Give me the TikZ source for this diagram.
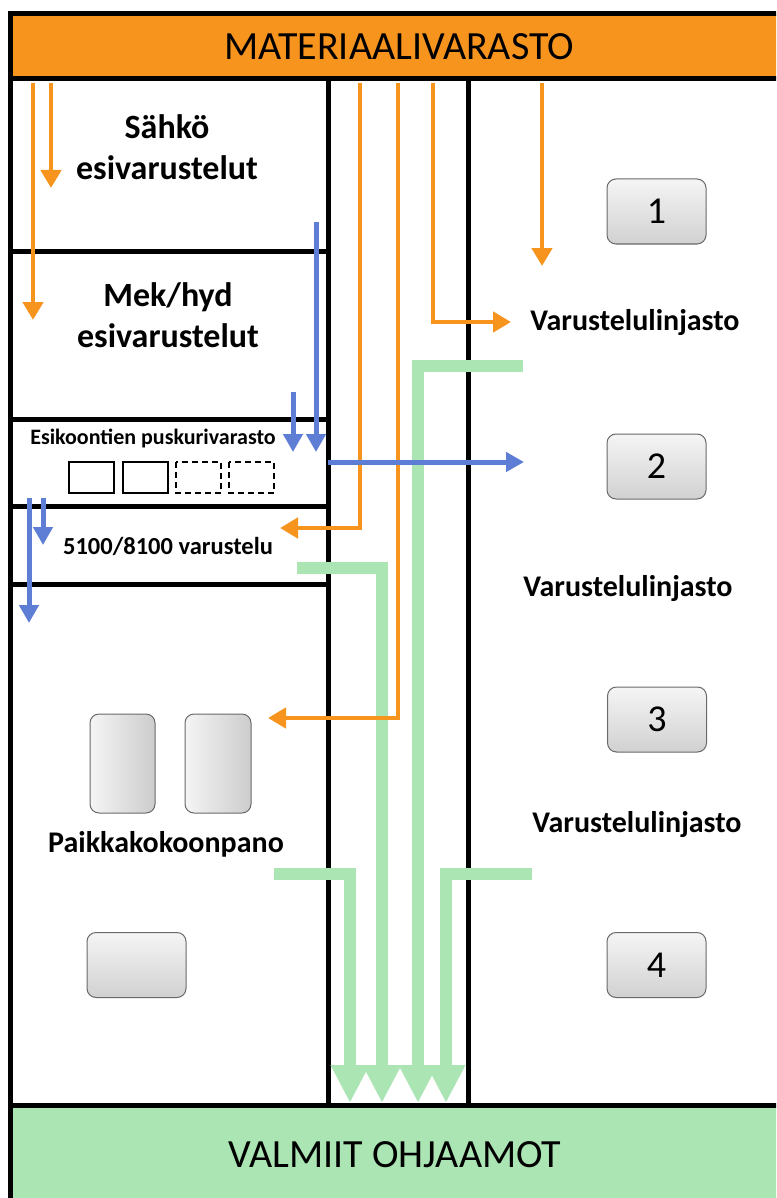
\documentclass[tikz,border=0pt]{standalone}
\usepackage{fontspec}
\setmainfont{Carlito}
\usetikzlibrary{arrows.meta}
\definecolor{oranssi}{RGB}{247,148,30}
\definecolor{sininen}{RGB}{94,126,214}
\definecolor{vihrea}{RGB}{171,229,180}
\definecolor{reuna}{RGB}{105,105,105}

\begin{document}
\begin{tikzpicture}[x=1pt,y=-1pt,line join=miter]
    \tikzset{seina/.style={line width=5pt},
        otsikko/.style={font=\bfseries\fontsize{34}{41}\selectfont,align=center},
        pieni/.style={font=\bfseries\fontsize{22}{26}\selectfont},
        linja/.style={font=\bfseries\fontsize{30}{36}\selectfont},
        kone/.style={draw=reuna,line width=1pt,rounded corners=9pt,inner sep=0pt,
            top color=black!4,bottom color=black!18,font=\fontsize{38}{40}\selectfont},
        pkone/.style={kone,left color=black!4,right color=black!20},
        katko/.style={dash pattern=on 6pt off 4pt},
        onuoli/.style={oranssi,line width=4.5pt,-{Triangle[width=20pt,length=18pt]}},
        snuoli/.style={sininen,line width=5pt,-{Triangle[width=19pt,length=18pt]}},
        vnuoli/.style={vihrea,line width=12pt,-{Triangle[width=36pt,length=38pt]}}}
    \useasboundingbox (0,0) rectangle (776,1198);
    \clip (0,0) rectangle (776,1198);
    % varastot ylhaalla ja alhaalla
    \draw[seina,fill=oranssi] (10.5,14) rectangle (800,79);
    \node[font=\fontsize{40}{44}\selectfont] (varasto) at (399,47) {MATERIAALIVARASTO};
    \fill[vihrea] (10.5,1105) rectangle (800,1210);
    \draw[seina] (10.5,79) -- (10.5,1210);
    \draw[seina] (10.5,1105) -- (800,1105);
    \node[font=\fontsize{40}{44}\selectfont] (valmiit) at (395,1155) {VALMIIT OHJAAMOT};
    % seinat
    \draw[seina] (328,79) -- (328,1105);
    \draw[seina] (468.5,79) -- (468.5,1105);
    \foreach \y in {251.5,419,506,584}
    \draw[seina] (10.5,\y) -- (328,\y);
    % puskurin paikat
    \foreach \x/\tyyli in {69/solid,123/solid,176/katko,229/katko}
    \draw[line width=1.6pt,\tyyli] (\x,462) rectangle ++(45,31);
    % tekstit
    \node[otsikko] (sahko) at (167,147) {Sähkö\\esivarustelut};
    \node[otsikko] (mekhyd) at (168,315) {Mek/hyd\\esivarustelut};
    \node[pieni] (puskuri) at (153,438) {Esikoontien puskurivarasto};
    \node[linja,font=\bfseries\fontsize{24.5}{28}\selectfont] (varustelu) at (168,546) {5100/8100 varustelu};
    \node[linja] (paikka) at (166,844) {Paikkakokoonpano};
    \node[linja] (linja1) at (635,323) {Varustelulinjasto};
    \node[linja] (linja2) at (628,589) {Varustelulinjasto};
    \node[linja] (linja3) at (637,824) {Varustelulinjasto};
    % koneet
    \node[kone,minimum width=99pt,minimum height=65pt] (k1) at (656.5,211.5) {1};
    \node[kone,minimum width=99pt,minimum height=65pt] (k2) at (656.5,466.5) {2};
    \node[kone,minimum width=99pt,minimum height=65pt] (k3) at (657,719.5) {3};
    \node[kone,minimum width=99pt,minimum height=65pt] (k4) at (656.5,965) {4};
    \node[pkone,minimum width=65pt,minimum height=99pt] (p1) at (122.5,763.5) {};
    \node[pkone,minimum width=66pt,minimum height=99pt] (p2) at (218,763.5) {};
    \node[kone,minimum width=99pt,minimum height=65pt] (p3) at (136.5,965) {};
    % valmiit ohjaamot
    \draw[vnuoli] (523,366) -| (418,1103);
    \draw[vnuoli] (297,568) -| (382,1103);
    \draw[vnuoli] (274,874) -| (350,1103);
    \draw[vnuoli] (532,874) -| (446,1103);
    % materiaalit
    \draw[onuoli] (33,83) -- (33,320);
    \draw[onuoli] (51,83) -- (51,188);
    \draw[onuoli] (360,83) |- (280,528);
    \draw[onuoli] (398,83) |- (268,718);
    \draw[onuoli] (433,83) |- (511,322);
    \draw[onuoli] (542,83) -- (542,266);
    % esikoonnit
    \draw[snuoli] (316,222) -- (316,452);
    \draw[snuoli] (293,392) -- (293,452);
    \draw[snuoli] (328,462) -- (524,462);
    \draw[snuoli] (29,498) -- (29,623);
    \draw[snuoli] (43,498) -- (43,545);
\end{tikzpicture}
\end{document}
